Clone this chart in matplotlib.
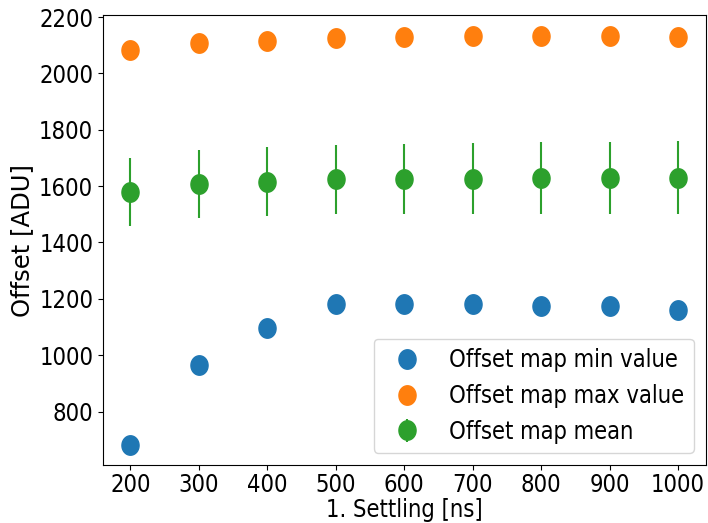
import numpy as np
import matplotlib
matplotlib.use("Agg")
from matplotlib import pyplot as plt
from matplotlib.path import Path

settling = [200, 300, 400, 500, 600, 700, 800, 900, 1000]
min_val = [683, 965, 1095, 1183, 1181, 1180, 1175, 1173, 1162]
max_val = [2083, 2108, 2116, 2126, 2129, 2132, 2134, 2134, 2128]
mean_val = [1579, 1607, 1616, 1624, 1626, 1626, 1630, 1630, 1630]
std_val = [120, 122, 122, 123, 125, 126, 128, 128, 129]

plt.rcParams['font.size'] = 17
plt.rcParams['font.stretch'] = 'condensed'

# slightly narrow round marker
t = np.linspace(0, 2 * np.pi, 60)
dot = Path(np.column_stack([0.88 * np.cos(t), np.sin(t)]), closed=True)

fig = plt.figure(figsize=(7.08, 5.23), dpi=100)
ax = fig.add_axes([0.1455, 0.111, 0.851, 0.86])

ax.plot(settling, min_val, linestyle='none', marker=dot, markersize=14, label="Offset map min value")
ax.plot(settling, max_val, linestyle='none', marker=dot, markersize=14, label="Offset map max value")
ax.errorbar(settling, mean_val, yerr=std_val, linestyle='none', marker=dot, markersize=14,
            color='C2', elinewidth=1.5, label="Offset map mean")

ax.set_xticks(settling)
ax.tick_params(axis='x', pad=2)
ax.set_xlabel("1. Settling [ns]", labelpad=1)
ax.set_ylabel("Offset [ADU]", fontsize=17.5, fontstretch='normal')
ax.legend(loc='lower right')

fig.savefig("out.png", dpi=100)
